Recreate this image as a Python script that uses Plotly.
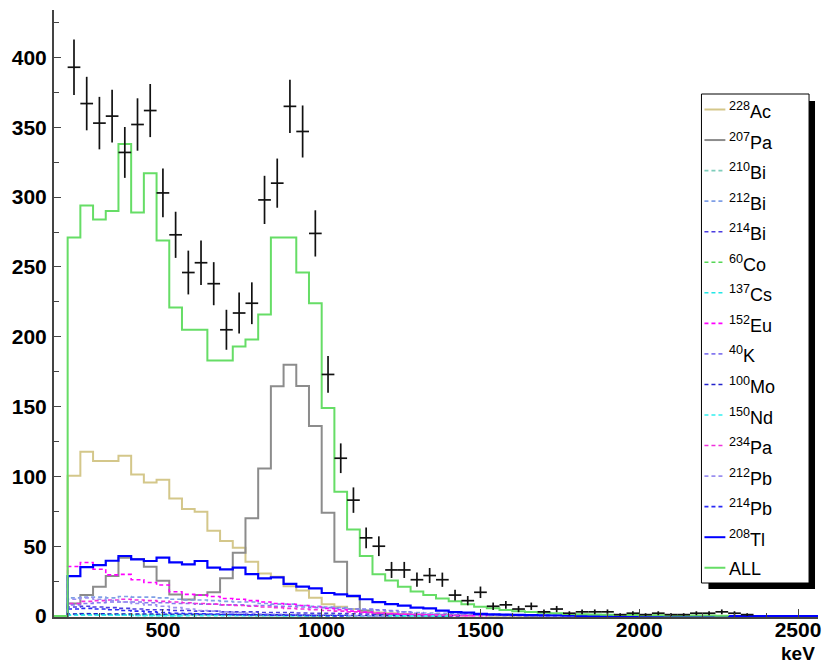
import numpy as np
import plotly.graph_objects as go

# Histogram binning (keV)
BIN_LO = 200
BIN_W = 40
N_BINS = 59
X_RANGE = [157, 2563]
Y_RANGE = [-0.7, 434]

# Measured spectrum (counts per bin)
data_counts = [393, 367, 353, 358, 332, 352, 362, 303, 273, 246, 253, 238, 205, 217, 224,
               298, 310, 365, 347, 274, 173, 113, 83, 56, 50, 33, 33, 26, 29, 26, 15, 11,
               17, 7, 8, 5, 7, 3, 5, 2, 3, 3, 3, 1, 2, 1, 2, 1, 1, 2, 2, 3, 2, 1]

# Simulated background components (counts per bin)
ac228 = [100.5, 117.7, 111, 111, 114.8, 101.4, 95.7, 97.6, 84.2, 76.6, 74.7, 61.1, 53.7,
         48.9, 38.8, 30.5, 28.2, 21.3, 18.2, 13.1, 8.4, 6.7, 5.0, 3.6, 2.6, 1.9, 1.4, 1.1,
         0.8, 0.6, 0.5, 0.4, 0.3, 0.25, 0.2, 0.15, 0.1]
pa207 = [9, 15, 21, 28.6, 41.8, 40.8, 35.3, 25.3, 15.5, 11.9, 15, 17, 27, 45.3, 70, 105.7,
         164.5, 180, 164.7, 136, 74, 38.9, 14, 4, 1.5, 0.8, 0.5, 0.3, 0.2, 0.1]
bi210 = [1.5, 1.8, 1.6, 1.5, 1.4, 1.2, 1.1, 1.0, 0.9, 0.8, 0.7, 0.6, 0.5, 0.4, 0.35, 0.3,
         0.25, 0.2, 0.15, 0.1]
bi212 = [13, 13.5, 13.5, 13, 14, 13.5, 13.5, 13, 12, 11.5, 11.5, 11, 10.5, 10, 10, 9, 8.5,
         8.5, 7.5, 7, 6.5, 6, 5, 4.5, 4, 3.5, 3, 2.5, 2.2, 2, 1.8, 1.6, 1.4, 1.2, 1.0, 0.9,
         0.8, 0.7, 0.6, 0.5, 0.4, 0.3, 0.3, 0.2, 0.2, 0.1]
bi214 = [6.5, 7, 6.5, 6, 5.5, 5, 4.5, 4.5, 4, 4, 3.5, 3.5, 3, 3, 3, 2.5, 2.5, 2.5, 2.2, 2,
         2, 1.8, 1.6, 1.4, 1.3, 1.2, 1.1, 1.0, 0.9, 0.8, 0.7, 0.6, 0.6, 0.5, 0.5, 0.4, 0.4,
         0.3, 0.3, 0.2]
co60 = [0.8, 0.9, 0.9, 0.8, 0.8, 0.7, 0.7, 0.7, 0.6, 0.6, 0.6, 0.5, 0.5, 0.5, 0.4, 0.4,
        0.4, 0.4, 0.3, 0.3, 0.3, 0.3, 0.2, 0.2, 0.2, 0.2, 0.1]
cs137 = [1.0, 1.2, 1.0, 0.8, 0.6, 0.4, 0.3, 0.2, 0.1]
eu152 = [35.5, 38.3, 33.5, 29.5, 29.8, 26, 24, 22.2, 17.4, 15.5, 15, 14, 12.6, 12, 11, 10,
         9, 8.4, 7.5, 6.5, 5.5, 4.5, 3.5, 2.8, 2.2, 1.7, 1.3, 1.0, 0.8, 0.6, 0.4, 0.3, 0.2]
k40 = [8, 9, 9.5, 10, 10, 10, 9.5, 9.5, 9, 9, 8.5, 8.5, 8, 8, 7.5, 7.5, 7, 7, 6.5, 6, 6,
       5.5, 5, 5, 4.5, 4, 3, 2, 1.5, 1.0, 0.8, 0.6, 0.5, 0.4, 0.3, 0.2, 0.1]
mo100 = [1.5, 1.6, 1.6, 1.5, 1.5, 1.4, 1.4, 1.3, 1.3, 1.2, 1.2, 1.1, 1.0, 1.0, 0.9, 0.9,
         0.8, 0.7, 0.7, 0.6, 0.5, 0.5, 0.4, 0.4, 0.3, 0.3, 0.2, 0.2, 0.2, 0.1, 0.1]
nd150 = [0.5, 0.6, 0.6, 0.5, 0.5, 0.4, 0.4, 0.4, 0.3, 0.3, 0.3, 0.3, 0.2, 0.2, 0.2, 0.2,
         0.2, 0.1, 0.1, 0.1, 0.1, 0.1, 0.1, 0.1, 0.1, 0.1, 0.1, 0.1, 0.1, 0.1]
pa234 = [9, 10.5, 11, 11.5, 12, 11.5, 11, 10.5, 10, 9.5, 9, 8.5, 8, 7.5, 7, 6.5, 6, 5.5,
         5, 4.5, 4, 3.5, 3, 2.5, 2, 1.6, 1.3, 1.0, 0.8, 0.6, 0.4, 0.2]
pb212 = [12, 13, 12, 11, 10, 9, 8, 7, 6, 5, 4, 3.5, 3, 2.5, 2, 1.5, 1.2, 1.0, 0.8, 0.6,
         0.5, 0.4, 0.3, 0.2, 0.1]
pb214 = [5, 5.5, 5, 4.5, 4, 3.5, 3, 2.5, 2, 1.8, 1.6, 1.4, 1.2, 1.0, 0.8, 0.7, 0.6, 0.5,
         0.4, 0.3, 0.2, 0.1]
tl208 = [28.6, 35, 36.5, 39.6, 43, 40.6, 39.4, 41.8, 38.4, 37, 39.4, 34.6, 33.4, 34.6, 30,
         27, 27.7, 23, 21, 19.8, 16.5, 15.5, 14.5, 12, 10, 8.5, 7.5, 6, 5.5, 3.8, 2.8, 2.5,
         1.5, 1.2, 1.0, 0.8, 0.6, 0.5, 0.4, 0.3]
all_sum = [271, 294, 284, 290, 338, 289, 317, 269, 221, 205, 205, 183, 183, 193, 198, 216,
           271, 271, 246, 224, 149, 89, 62, 43, 30, 25.5, 21, 17.5, 15, 12.5, 10.5, 8.5,
           6.7, 5.5, 4.4, 3.5, 2.8, 2.3, 1.9, 1.5, 1.3, 1.1, 0.9, 0.8, 0.7, 0.6, 0.5, 0.45,
           0.4, 0.35, 0.3, 0.25]

# (label, values, colour, dashed, width, runs along the zero line to the frame edges)
components = [
    ("<sup>228</sup>Ac", ac228, "#d4c78a", False, 2.0, False),
    ("<sup>207</sup>Pa", pa207, "#8c8c8c", False, 2.0, False),
    ("<sup>210</sup>Bi", bi210, "#7fcdbb", True, 1.6, False),
    ("<sup>212</sup>Bi", bi212, "#7f9fe6", True, 1.6, False),
    ("<sup>214</sup>Bi", bi214, "#4a3ce0", True, 1.6, False),
    ("<sup>60</sup>Co", co60, "#55d655", True, 1.6, False),
    ("<sup>137</sup>Cs", cs137, "#22e6e6", True, 1.6, False),
    ("<sup>152</sup>Eu", eu152, "#ff00ff", True, 1.6, False),
    ("<sup>40</sup>K", k40, "#8478f0", True, 1.6, False),
    ("<sup>100</sup>Mo", mo100, "#2222cc", True, 1.6, False),
    ("<sup>150</sup>Nd", nd150, "#33f0f0", True, 1.6, False),
    ("<sup>234</sup>Pa", pa234, "#f030dc", True, 1.6, False),
    ("<sup>212</sup>Pb", pb212, "#9a8ff0", True, 1.6, False),
    ("<sup>214</sup>Pb", pb214, "#2a2af5", True, 1.6, False),
    ("<sup>208</sup>Tl", tl208, "#0000ff", False, 2.2, True),
    ("ALL", all_sum, "#66dd66", False, 2.0, False),
]

edges = [BIN_LO + BIN_W * i for i in range(N_BINS + 1)]


def step_xy(vals, full_span):
    """Histogram outline as an hv-step path."""
    n = len(vals)
    xs = [X_RANGE[0]] + edges[:n] + [edges[n]]
    ys = [0.0] + list(vals) + [0.0]
    if full_span:
        xs.append(X_RANGE[1])
        ys.append(0.0)
    return xs, ys


fig = go.Figure()

for label, vals, color, dashed, width, full in components:
    xs, ys = step_xy(vals, full)
    fig.add_trace(go.Scatter(
        x=xs, y=ys, mode="lines", line_shape="hv", name=label, showlegend=False,
        line=dict(color=color, width=width, dash="4px,3px" if dashed else "solid"),
        hoverinfo="skip",
    ))

# Data points with Poisson errors
cnt = np.array(data_counts, dtype=float)
centers = np.array(edges[:len(cnt)]) + BIN_W / 2
mask = cnt > 0
fig.add_trace(go.Scatter(
    x=centers[mask], y=cnt[mask], mode="markers", showlegend=False,
    marker=dict(size=1, color="#111111"),
    error_y=dict(type="data", array=np.sqrt(cnt[mask]), width=0, thickness=1.7, color="#111111"),
    error_x=dict(type="data", array=np.full(mask.sum(), BIN_W / 2), width=0, thickness=1.7,
                 color="#111111"),
))

# Page geometry (pixels)
W, H = 824, 662
ML, MR, MT, MB = 54, 3, 10, 45
PW, PH = W - ML - MR, H - MT - MB


def px(x):
    return (x - ML) / PW


def py(y):
    return (H - MB - y) / PH


shapes = []
annotations = []

# Legend box with drop shadow
shapes.append(dict(type="rect", xref="paper", yref="paper", layer="above",
                   x0=px(711), x1=px(818), y0=py(589), y1=py(101),
                   fillcolor="black", line=dict(width=0)))
shapes.append(dict(type="rect", xref="paper", yref="paper", layer="above",
                   x0=px(704), x1=px(812), y0=py(583), y1=py(94),
                   fillcolor="white", line=dict(color="black", width=1)))

for i, (label, vals, color, dashed, width, full) in enumerate(components):
    yy = 109.5 + 30.55 * i
    shapes.append(dict(type="line", xref="paper", yref="paper", layer="above",
                       x0=px(707), x1=px(728), y0=py(yy), y1=py(yy),
                       line=dict(color=color, width=min(width, 2.0),
                                 dash="4px,3px" if dashed else "solid")))
    annotations.append(dict(xref="paper", yref="paper", x=px(729.5), y=py(yy + 1),
                            xanchor="left", yanchor="middle", showarrow=False, text=label,
                            font=dict(family="Liberation Sans", size=18, color="black")))

# Axis title, kept inside the page
annotations.append(dict(xref="paper", yref="paper", x=px(819), y=py(652.5),
                        xanchor="right", yanchor="middle", showarrow=False, text="keV",
                        height=18, borderpad=0,
                        font=dict(family="Liberation Sans", size=19, color="black",
                                  weight="bold")))

tick_font = dict(family="Liberation Sans", size=21, color="black", weight="bold")

fig.update_layout(
    width=W, height=H,
    margin=dict(l=ML, r=MR, t=MT, b=MB, pad=0),
    paper_bgcolor="white", plot_bgcolor="white",
    showlegend=False,
    shapes=shapes, annotations=annotations,
    xaxis=dict(range=X_RANGE, showgrid=False, zeroline=False,
               showline=True, linecolor="#444444", linewidth=2,
               ticks="inside", ticklen=8, tickwidth=1.2, tickcolor="#444444",
               tickvals=[500, 1000, 1500, 2000, 2500], tickfont=tick_font,
               ticklabeloverflow="allow", ticklabelstandoff=-7,
               minor=dict(ticks="inside", dtick=100, tick0=0, ticklen=4,
                          tickcolor="#444444", tickwidth=1.2)),
    yaxis=dict(range=Y_RANGE, showgrid=False, zeroline=False,
               showline=True, linecolor="#444444", linewidth=2,
               ticks="inside", ticklen=7, tickwidth=1.2, tickcolor="#444444",
               tickvals=[0, 50, 100, 150, 200, 250, 300, 350, 400], tickfont=tick_font,
               ticklabelstandoff=1, ticklabeloverflow="allow",
               minor=dict(ticks="inside", dtick=25, tick0=0, ticklen=5,
                          tickcolor="#444444", tickwidth=1.2)),
)

fig.write_html("out.html")
